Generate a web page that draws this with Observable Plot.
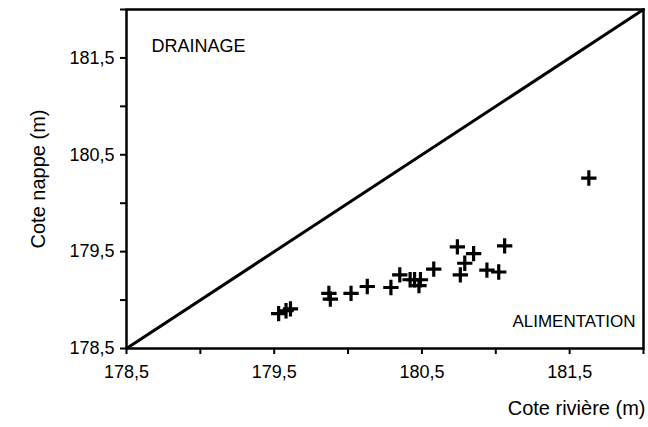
<!DOCTYPE html>
<html>
<head>
<meta charset="utf-8">
<script src="https://cdn.jsdelivr.net/npm/d3@7"></script>
<script src="https://cdn.jsdelivr.net/npm/@observablehq/plot@0.6"></script>
<style>
  html, body { margin: 0; padding: 0; background: #fff; }
  svg { display: block; }
</style>
</head>
<body>
<div id="chart"></div>
<script>
// Cote rivière (m) — river level
const riverLevel = [179.53, 179.58, 179.61, 179.87, 179.88, 180.02, 180.13, 180.29, 180.35, 180.42, 180.45, 180.49, 180.48, 180.58, 180.74, 180.85, 180.79, 180.76, 180.94, 181.02, 181.06, 181.63];
// Cote nappe (m) — water table level
const waterTable = [178.86, 178.89, 178.91, 179.07, 179.01, 179.07, 179.14, 179.13, 179.26, 179.21, 179.21, 179.21, 179.15, 179.32, 179.55, 179.48, 179.38, 179.26, 179.31, 179.29, 179.56, 180.26];
const domain = [178.5, 182];
const tickValues = [178.5, 179, 179.5, 180, 180.5, 181, 181.5, 182];
const diagonal = [178.5, 182];
const zoneLabels = ["DRAINAGE", "ALIMENTATION"];

const points = riverLevel.map((x, i) => ({x, y: waterTable[i]}));
const fmt = d => (d % 1 ? String(d).replace(".", ",") : "");

const chart = Plot.plot({
  width: 648,
  height: 427,
  marginLeft: 126,
  marginRight: 5,
  marginTop: 9,
  marginBottom: 79,
  style: {fontFamily: "'Liberation Sans', Arial, sans-serif", background: "#fff", color: "#000"},
  x: {domain, ticks: tickValues, tickFormat: fmt},
  y: {domain, ticks: tickValues, tickFormat: fmt},
  marks: [
    Plot.axisX({ticks: tickValues, tickFormat: fmt, tickSize: 6, strokeWidth: 2, tickPadding: 11,
      fontSize: 18, style: {letterSpacing: "2.5px"}, label: "Cote rivière (m)", labelAnchor: "right", labelOffset: 66, labelArrow: "none"}),
    Plot.axisY({ticks: tickValues, tickFormat: fmt, tickSize: 6, strokeWidth: 2, tickPadding: 6,
      fontSize: 18, label: "Cote nappe (m)", labelAnchor: "center", labelOffset: 96, labelArrow: "none"}),
    Plot.frame({stroke: "#000", strokeWidth: 2.5}),
    Plot.line(diagonal.map(v => ({x: v, y: v})), {x: "x", y: "y", stroke: "#000", strokeWidth: 3}),
    Plot.dot(points, {x: "x", y: "y", symbol: "plus", r: 5, stroke: "#000", strokeWidth: 3.2}),
    Plot.text([zoneLabels[0]], {text: d => d, frameAnchor: "top-left", dx: 25, dy: 30, fontSize: 18, textAnchor: "start"}),
    Plot.text([zoneLabels[1]], {text: d => d, frameAnchor: "bottom-right", dx: -8, dy: -22, fontSize: 17, textAnchor: "end"})
  ]
});
// enlarge the axis label fonts
chart.querySelectorAll("[aria-label='x-axis label'] text, [aria-label='y-axis label'] text").forEach(t => t.setAttribute("font-size", 20));
document.getElementById("chart").appendChild(chart);
</script>
</body>
</html>
